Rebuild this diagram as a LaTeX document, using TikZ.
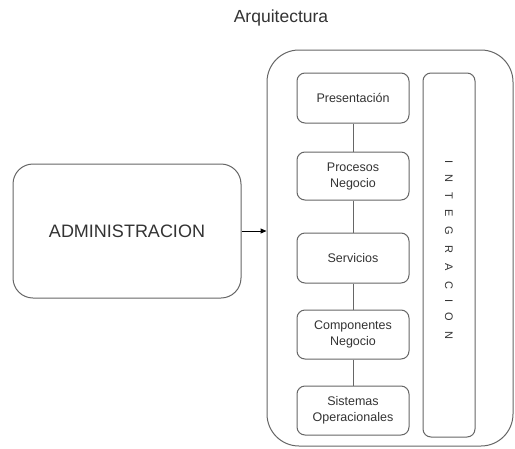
\documentclass[tikz,border=0pt]{standalone}
\usepackage{fontspec}
\setmainfont{Liberation Sans}
\usetikzlibrary{arrows.meta}
\definecolor{edge}{HTML}{666666}
\definecolor{ink}{HTML}{333333}
\newcommand\lsp{\hspace{10.2pt}}
\begin{document}
\begin{tikzpicture}[x=1pt,y=-1pt,
  boxbase/.style={draw=edge, line width=1pt, fill=white, text=ink, align=center, inner sep=0pt},
  layerbox/.style={boxbase, rounded corners=8pt, minimum width=112pt, font=\fontsize{12.5}{16}\selectfont},
  link/.style={draw=edge, line width=1pt}]
\useasboundingbox (0,0) rectangle (515,448);
\node[text=ink, font=\fontsize{17.5}{20}\selectfont] (title) at (281,18) {Arquitectura};
\node[boxbase, rounded corners=32pt, minimum width=246pt, minimum height=396pt] (outer) at (390,248) {};
\node[boxbase, rounded corners=20pt, minimum width=228pt, minimum height=134pt, font=\fontsize{18}{20}\selectfont] (admin) at (127,231) {ADMINISTRACION};
\node[layerbox, minimum height=50pt] (pres) at (353,98) {Presentación};
\node[layerbox, minimum height=48pt] (proc) at (353,176) {Procesos\\Negocio};
\node[layerbox, minimum height=50pt] (serv) at (353,258) {Servicios};
\node[layerbox, minimum height=49pt] (comp) at (353,334.5) {Componentes\\Negocio};
\node[layerbox, minimum height=49pt] (sist) at (353,410.5) {Sistemas\\Operacionales};
\node[boxbase, rounded corners=8pt, minimum width=52pt, minimum height=364pt] (integ) at (449,255) {};
\node[text=ink, rotate=-90, inner sep=0pt, font=\fontsize{11}{12}\selectfont] (integtext) at (449,250) {I\lsp N\lsp T\lsp E\lsp G\lsp R\lsp A\lsp C\lsp I\lsp O\lsp N};
\draw[link] (pres) -- (proc);
\draw[link] (proc) -- (serv);
\draw[link] (serv) -- (comp);
\draw[link] (comp) -- (sist);
\draw[link, -{Triangle[length=6pt,width=5pt]}, draw=black] (admin) -- (admin -| outer.west);
\end{tikzpicture}
\end{document}
